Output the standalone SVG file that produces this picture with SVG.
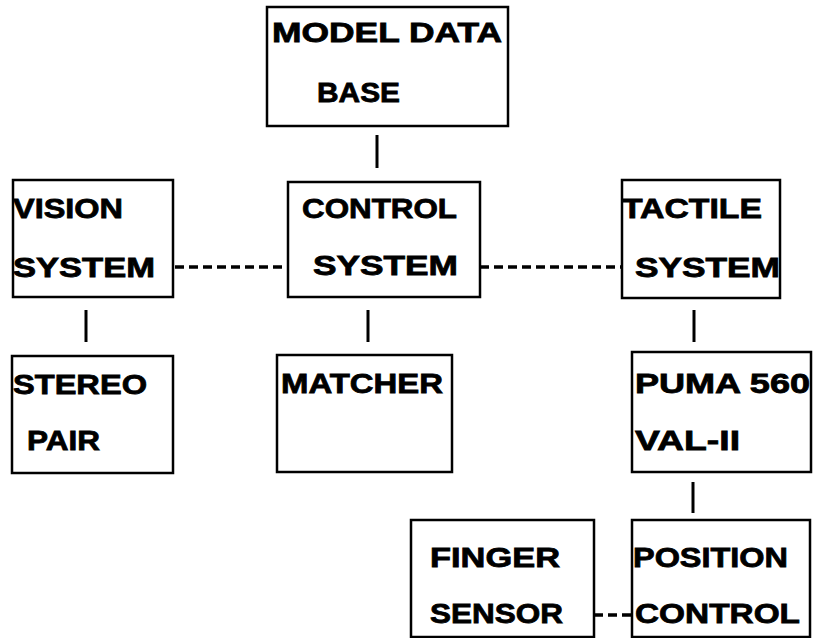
<svg xmlns="http://www.w3.org/2000/svg" width="814" height="638" viewBox="0 0 814 638">
  <style>
    .box { fill: #ffffff; stroke: #000000; stroke-width: 2.5; }
    .lbl { font-family: "Liberation Sans", Arial, sans-serif; font-weight: bold; font-size: 28px; fill: #000000; stroke: #000000; stroke-width: 0.8; }
    .link { stroke: #000000; stroke-width: 3; fill: none; }
    .dash { stroke: #000000; stroke-width: 3.5; fill: none; stroke-dasharray: 9 5; }
  </style>
  <rect width="814" height="638" fill="#ffffff"/>

  <!-- connectors -->
  <g id="connectors">
    <line class="link" x1="377" y1="135" x2="377" y2="168"/>
    <line class="dash" x1="175" y1="267" x2="288" y2="267"/>
    <line class="dash" x1="480" y1="267" x2="622" y2="267"/>
    <line class="link" x1="86" y1="310" x2="86" y2="342"/>
    <line class="link" x1="368" y1="310" x2="368" y2="342"/>
    <line class="link" x1="694" y1="310" x2="694" y2="342"/>
    <line class="link" x1="693" y1="482" x2="693" y2="513"/>
    <line class="dash" x1="594" y1="615" x2="632" y2="615"/>
  </g>

  <g id="model-data-base">
    <rect class="box" x="267" y="7" width="241" height="119"/>
    <text class="lbl" x="272" y="42" textLength="230" lengthAdjust="spacingAndGlyphs">MODEL DATA</text>
    <text class="lbl" x="317" y="102" textLength="83" lengthAdjust="spacingAndGlyphs">BASE</text>
  </g>

  <g id="vision-system">
    <rect class="box" x="13" y="180" width="160" height="117"/>
    <text class="lbl" x="13" y="218" textLength="110" lengthAdjust="spacingAndGlyphs">VISION</text>
    <text class="lbl" x="13" y="277" textLength="142" lengthAdjust="spacingAndGlyphs">SYSTEM</text>
  </g>

  <g id="control-system">
    <rect class="box" x="288" y="182" width="192" height="115"/>
    <text class="lbl" x="302" y="218" textLength="155" lengthAdjust="spacingAndGlyphs">CONTROL</text>
    <text class="lbl" x="313" y="275" textLength="145" lengthAdjust="spacingAndGlyphs">SYSTEM</text>
  </g>

  <g id="tactile-system">
    <rect class="box" x="622" y="180" width="158" height="118"/>
    <text class="lbl" x="622" y="218" textLength="140" lengthAdjust="spacingAndGlyphs">TACTILE</text>
    <text class="lbl" x="635" y="277" textLength="145" lengthAdjust="spacingAndGlyphs">SYSTEM</text>
  </g>

  <g id="stereo-pair">
    <rect class="box" x="12" y="356" width="161" height="117"/>
    <text class="lbl" x="13" y="394" textLength="134" lengthAdjust="spacingAndGlyphs">STEREO</text>
    <text class="lbl" x="27" y="450" textLength="73" lengthAdjust="spacingAndGlyphs">PAIR</text>
  </g>

  <g id="matcher">
    <rect class="box" x="277" y="355" width="175" height="117"/>
    <text class="lbl" x="281" y="393" textLength="162" lengthAdjust="spacingAndGlyphs">MATCHER</text>
  </g>

  <g id="puma-560">
    <rect class="box" x="632" y="352" width="179" height="120"/>
    <text class="lbl" x="635" y="393" textLength="175" lengthAdjust="spacingAndGlyphs">PUMA 560</text>
    <text class="lbl" x="635" y="450" textLength="105" lengthAdjust="spacingAndGlyphs">VAL-II</text>
  </g>

  <g id="finger-sensor">
    <rect class="box" x="411" y="520" width="183" height="117"/>
    <text class="lbl" x="430" y="567" textLength="130" lengthAdjust="spacingAndGlyphs">FINGER</text>
    <text class="lbl" x="430" y="623" textLength="133" lengthAdjust="spacingAndGlyphs">SENSOR</text>
  </g>

  <g id="position-control">
    <rect class="box" x="632" y="520" width="178" height="117"/>
    <text class="lbl" x="633" y="567" textLength="155" lengthAdjust="spacingAndGlyphs">POSITION</text>
    <text class="lbl" x="635" y="623" textLength="165" lengthAdjust="spacingAndGlyphs">CONTROL</text>
  </g>
</svg>
